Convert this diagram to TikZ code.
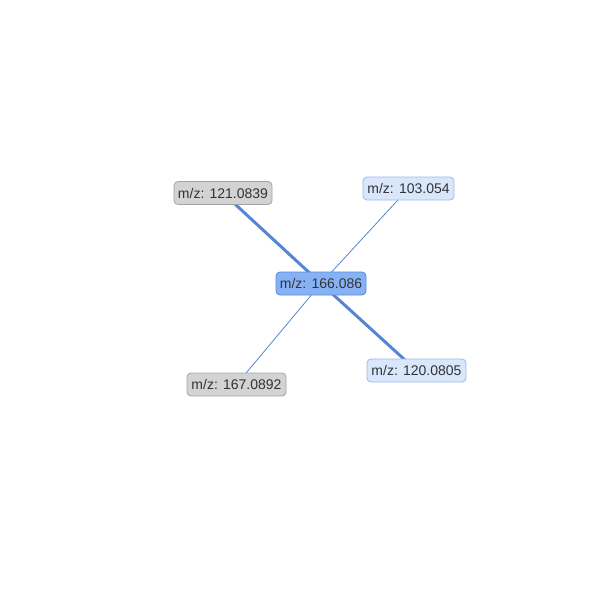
\documentclass[tikz,border=0pt]{standalone}
\usepackage{fontspec}
\setmainfont{Liberation Sans}
\usetikzlibrary{backgrounds}
\definecolor{grayfill}{HTML}{D3D3D3}
\definecolor{grayline}{HTML}{A3A3A3}
\definecolor{lbfill}{HTML}{D9E7FC}
\definecolor{lbline}{HTML}{9DB8E2}
\definecolor{cfill}{HTML}{86B2F5}
\definecolor{cline}{HTML}{5A88D6}
\definecolor{edgec}{HTML}{5585D4}
\tikzset{
  x=1pt, y=-1pt,
  base/.style={rounded corners=4pt, inner sep=0pt, minimum height=23pt, font=\fontsize{14}{16}\selectfont, text=black!80, line width=0.8pt},
  graybox/.style={base, fill=grayfill, draw=grayline, minimum width=98pt},
  lbbox/.style={base, fill=lbfill, draw=lbline, minimum width=92pt},
  cbox/.style={base, fill=cfill, draw=cline, minimum width=90pt},
  thickedge/.style={draw=edgec, line width=3pt},
  thinedge/.style={draw=edgec, line width=0.8pt},
}
\begin{document}
\begin{tikzpicture}
\useasboundingbox (0,0) rectangle (600,600);
\node[graybox] (a) at (223,193) {m/z: 121.0839};
\node[lbbox, minimum width=91pt] (b) at (408.5,188.5) {m/z: 103.054};
\node[cbox] (c) at (321,283.5) {m/z: 166.086};
\node[graybox, minimum width=99pt] (d) at (236.5,384.5) {m/z: 167.0892};
\node[lbbox, minimum width=99pt] (e) at (416.5,370.5) {m/z: 120.0805};
\begin{scope}[on background layer]
\draw[thickedge] (a.center) -- (c.center);
\draw[thickedge] (c.center) -- (e.center);
\draw[thinedge] (c.center) -- (b.center);
\draw[thinedge] (c.center) -- (d.center);
\end{scope}
\end{tikzpicture}
\end{document}
